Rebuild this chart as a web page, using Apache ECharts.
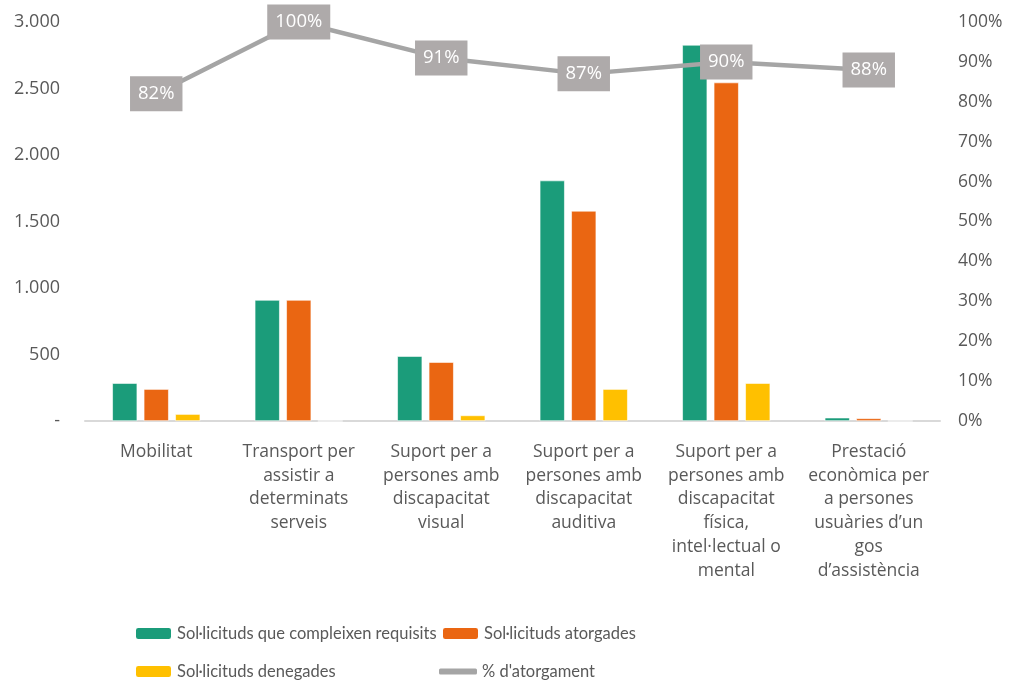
<!DOCTYPE html>
<html><head><meta charset="utf-8">
<script src="https://cdn.jsdelivr.net/npm/echarts@6/dist/echarts.min.js"></script>
<style>html,body{margin:0;padding:0;background:#fff}#c{width:1010px;height:681px}</style>
</head><body><div id="c"></div>
<script>
const categories = [
  "Mobilitat",
  "Transport per\nassistir a\ndeterminats\nserveis",
  "Suport per a\npersones amb\ndiscapacitat\nvisual",
  "Suport per a\npersones amb\ndiscapacitat\nauditiva",
  "Suport per a\npersones amb\ndiscapacitat\nfísica,\nintel·lectual o\nmental",
  "Prestació\neconòmica per\na persones\nusuàries d’un\ngos\nd’assistència"
];
const requisits = [285, 910, 488, 1808, 2828, 25];
const atorgades = [240, 910, 443, 1580, 2545, 20];
const denegades = [52, 0, 42, 240, 285, 0];
const percent = [0.82, 1.00, 0.91, 0.87, 0.90, 0.88];

const AXF = '"Open Sans", sans-serif';
const LGF = 'Lato, sans-serif';
const TXT = '#595959';
const chart = echarts.init(document.getElementById('c'));
const barBase = {type:'bar', barWidth:25, barGap:'26%', itemStyle:{borderColor:'#fff', borderWidth:0.6}};
const legendBase = {itemWidth:37, itemHeight:13, itemGap:4, textStyle:{color:TXT, fontFamily:LGF, fontSize:16.5}, selectedMode:false};
chart.setOption({
  animation:false,
  grid:{left:85, right:70, top:22, bottom:260},
  legend:[
    Object.assign({left:129, top:620, data:['Sol·licituds que compleixen requisits']}, legendBase),
    Object.assign({left:436, top:620, data:['Sol·licituds atorgades']}, legendBase),
    Object.assign({left:129, top:658, data:['Sol·licituds denegades']}, legendBase),
    Object.assign({left:434, top:658, data:[{name:'% d\'atorgament', icon:'roundRect', itemStyle:{color:'#a5a5a5'}}]}, legendBase, {itemWidth:38, itemHeight:6, itemGap:5})
  ],
  xAxis:{type:'category', data:categories,
    axisLine:{lineStyle:{color:'#d9d9d9', width:2}}, axisTick:{show:false},
    axisLabel:{interval:0, color:TXT, fontFamily:AXF, fontSize:17.5, lineHeight:23.8, margin:19}},
  yAxis:[
    {type:'value', min:0, max:3000, interval:500,
      splitLine:{show:false}, axisLine:{show:false}, axisTick:{show:false},
      axisLabel:{color:TXT, fontFamily:AXF, fontSize:18, margin:25,
        formatter:v=> v===0 ? '-' : v.toLocaleString('de-DE')}},
    {type:'value', min:0, max:1, interval:0.1,
      splitLine:{show:false}, axisLine:{show:false}, axisTick:{show:false},
      axisLabel:{color:TXT, fontFamily:AXF, fontSize:17.5, margin:18,
        formatter:v=> Math.round(v*100)+'%'}}
  ],
  series:[
    Object.assign({name:'Sol·licituds que compleixen requisits', data:requisits, color:'#1b9c7a'}, barBase),
    Object.assign({name:'Sol·licituds atorgades', data:atorgades, color:'#ea6612'}, barBase),
    Object.assign({name:'Sol·licituds denegades', data:denegades, color:'#ffc000'}, barBase),
    {name:'% d\'atorgament', type:'line', yAxisIndex:1, data:percent, color:'#a5a5a5',
      lineStyle:{width:4.5, color:'#a5a5a5'}, symbol:'circle', symbolSize:1, showSymbol:true,
      itemStyle:{color:'#a5a5a5'},
      label:{show:true, position:'inside', formatter:p=>Math.round(p.value*100)+'%',
        color:'#fff', fontFamily:AXF, fontSize:18.5, backgroundColor:'#aeaaaa',
        padding:[9,8,7,8]}}
  ]
});
</script></body></html>
